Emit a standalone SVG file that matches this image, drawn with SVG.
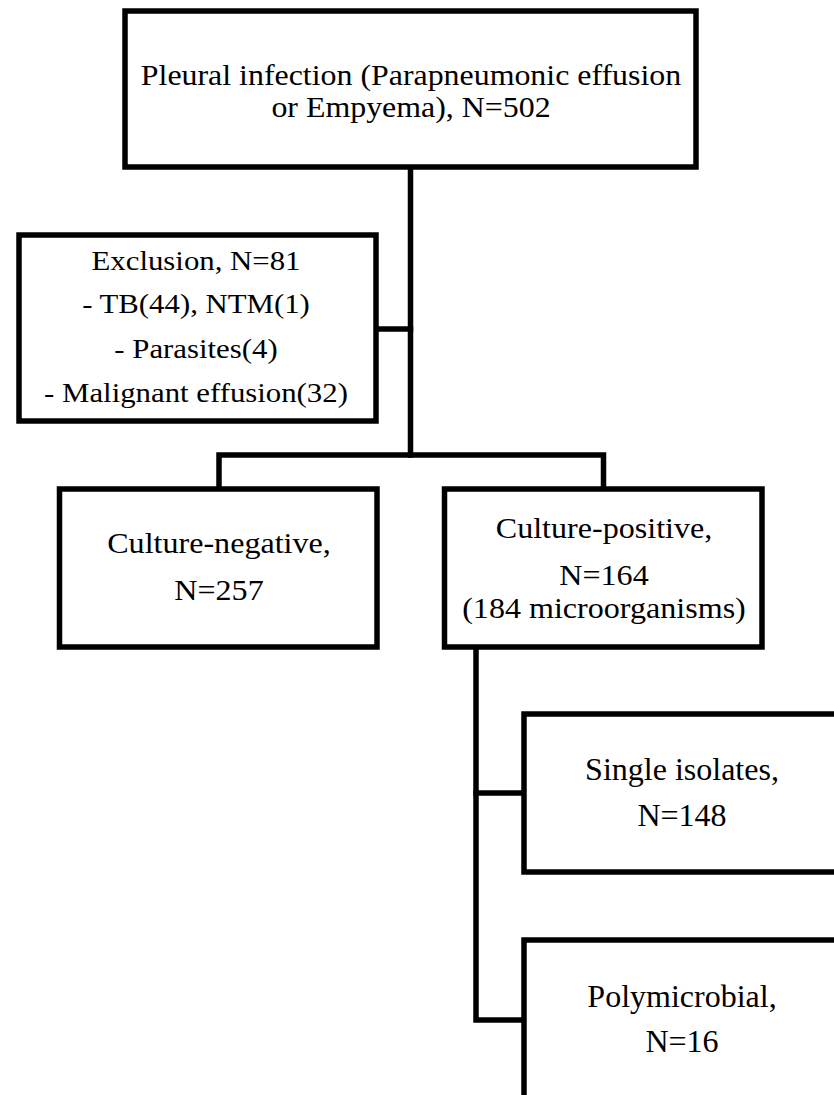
<svg xmlns="http://www.w3.org/2000/svg" width="834" height="1095" viewBox="0 0 834 1095">
  <style>
    .box { fill: #ffffff; stroke: #000000; stroke-width: 5.5; }
    .conn { fill: none; stroke: #000000; stroke-width: 5.5; stroke-linecap: square; stroke-linejoin: miter; }
    text { font-family: 'Liberation Serif', 'DejaVu Serif', serif; fill: #000000; text-anchor: middle; }
  </style>
  <rect x="0" y="0" width="834" height="1095" fill="#ffffff"/>

  <g id="connectors">
    <path class="conn" d="M410.5 167 V455"/>
    <path class="conn" d="M376 329 H410.5"/>
    <path class="conn" d="M219 489 V455 H603.5 V489"/>
    <path class="conn" d="M476 647 V1020 H524"/>
    <path class="conn" d="M476 793 H524"/>
  </g>

  <g id="node-pleural" font-family="Liberation Serif, serif">
    <rect class="box" x="125" y="11" width="571" height="156"/>
    <g transform="translate(411 0) scale(1.1 1)">
      <text x="0" y="85" font-size="29">Pleural infection (Parapneumonic effusion</text>
      <text x="0" y="117" font-size="29">or Empyema), N=502</text>
    </g>
  </g>

  <g id="node-exclusion" font-family="Liberation Serif, serif">
    <rect class="box" x="19" y="235" width="357" height="186"/>
    <g transform="translate(196 0) scale(1.1 1)">
      <text x="0" y="270" font-size="28">Exclusion, N=81</text>
      <text x="0" y="313" font-size="28">- TB(44), NTM(1)</text>
      <text x="0" y="358" font-size="28">- Parasites(4)</text>
      <text x="0" y="402" font-size="28">- Malignant effusion(32)</text>
    </g>
  </g>

  <g id="node-culture-negative" font-family="Liberation Serif, serif">
    <rect class="box" x="59.5" y="489" width="317.5" height="158"/>
    <g transform="translate(219 0) scale(1.07 1)">
      <text x="0" y="553" font-size="30">Culture-negative,</text>
      <text x="0" y="600" font-size="30">N=257</text>
    </g>
  </g>

  <g id="node-culture-positive" font-family="Liberation Serif, serif">
    <rect class="box" x="444.5" y="489" width="317.5" height="158"/>
    <g transform="translate(604 0) scale(1.07 1)">
      <text x="0" y="538" font-size="30">Culture-positive,</text>
      <text x="0" y="585" font-size="30">N=164</text>
      <text x="0" y="618" font-size="30">(184 microorganisms)</text>
    </g>
  </g>

  <g id="node-single" font-family="Liberation Serif, serif">
    <rect class="box" x="524" y="714" width="330" height="158"/>
    <text x="682" y="780" font-size="32">Single isolates,</text>
    <text x="682" y="826" font-size="32">N=148</text>
  </g>

  <g id="node-poly" font-family="Liberation Serif, serif">
    <rect class="box" x="524" y="940" width="330" height="180"/>
    <text x="682" y="1007" font-size="32">Polymicrobial,</text>
    <text x="682" y="1052" font-size="32">N=16</text>
  </g>
</svg>
